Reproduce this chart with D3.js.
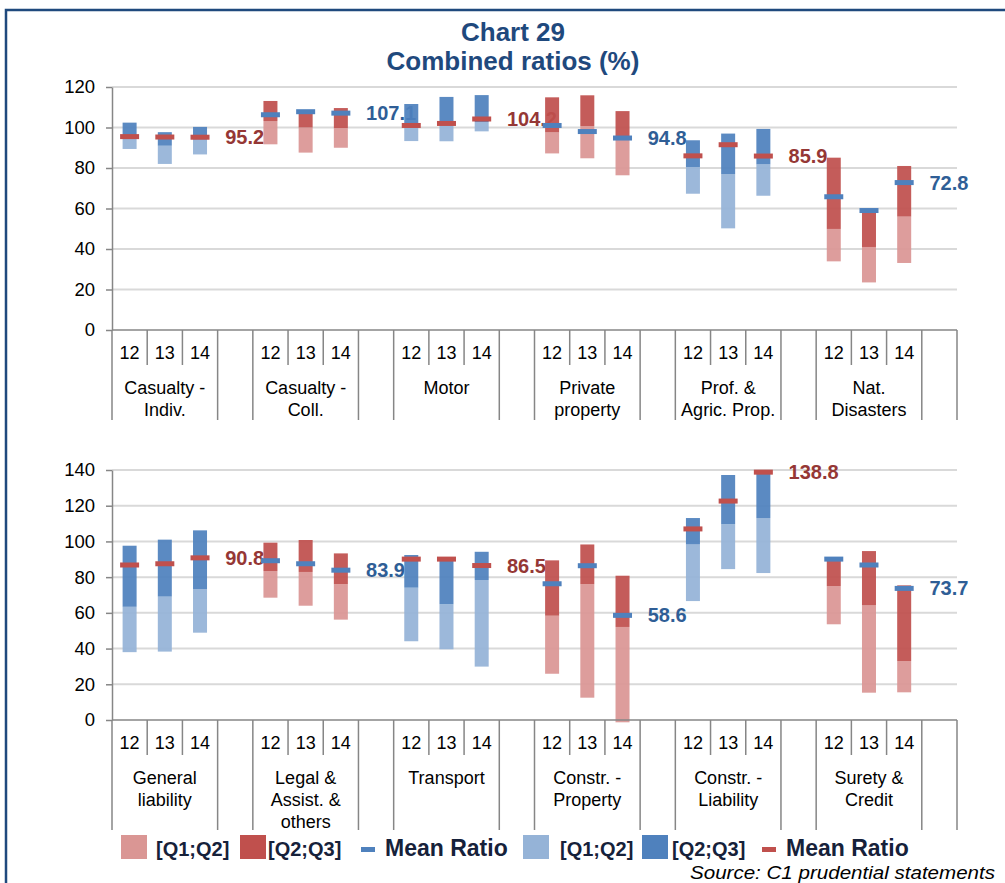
<!DOCTYPE html>
<html>
<head>
<meta charset="utf-8">
<script src="https://cdn.jsdelivr.net/npm/d3@7"></script>
<style>
  body { margin: 0; background: #fff; }
  svg { display: block; font-family: "Liberation Sans", Arial, sans-serif; }
</style>
</head>
<body>
<svg id="chart" width="1005" height="883"></svg>
<script>
// ---- data -------------------------------------------------------------
const years = ["12", "13", "14"];

// upper panel: lines of business
const topGroups = [
  ["Casualty -", "Indiv."], ["Casualty -", "Coll."], ["Motor"],
  ["Private", "property"], ["Prof. &", "Agric. Prop."], ["Nat.", "Disasters"]
];
const topTicks = [0, 20, 40, 60, 80, 100, 120];
// one value per group and year (12, 13, 14)
const topQ1 = [89.4, 82.0, 86.7,  91.7, 87.6, 90.0,  93.3, 93.2, 98.1,
               87.2, 84.8, 76.4,  67.3, 50.2, 66.3,  33.9, 23.5, 33.1];
const topQ2 = [95.0, 91.0, 94.0,  103.2, 100.0, 99.7,  100.0, 101.0, 102.7,
               97.6, 100.7, 94.5,  80.5, 77.0, 81.8,  49.9, 41.0, 56.0];
const topQ3 = [102.4, 97.7, 100.3,  113.1, 108.3, 109.6,  111.6, 115.1, 116.0,
               114.9, 115.9, 108.1,  93.7, 97.0, 99.3,  85.1, 58.0, 81.0];
const topMean = [95.5, 95.3, 95.2,  106.3, 107.8, 107.1,  101.0, 102.0, 104.2,
                 101.0, 98.0, 94.8,  86.0, 91.5, 85.9,  65.8, 59.0, 72.8];

// lower panel
const bottomGroups = [
  ["General", "liability"], ["Legal &", "Assist. &", "others"], ["Transport"],
  ["Constr. -", "Property"], ["Constr. -", "Liability"], ["Surety &", "Credit"]
];
const bottomTicks = [0, 20, 40, 60, 80, 100, 120, 140];
const bottomQ1 = [38.0, 38.3, 48.9,  68.5, 64.0, 56.2,  44.1, 39.6, 29.9,
                  25.9, 12.5, -1.3,  66.6, 84.5, 82.3,  53.6, 15.3, 15.5];
const bottomQ2 = [63.4, 69.1, 73.2,  83.4, 82.9, 76.1,  74.1, 64.9, 78.4,
                  58.4, 76.1, 52.1,  98.3, 109.7, 113.1,  75.0, 64.2, 33.0];
const bottomQ3 = [97.6, 101.0, 106.2,  99.3, 100.8, 93.3,  92.4, 89.3, 94.2,
                  89.4, 98.3, 80.8,  113.1, 137.2, 138.5,  89.5, 94.6, 75.4];
const bottomMean = [86.8, 87.5, 90.8,  89.2, 87.5, 83.9,  90.1, 90.1, 86.5,
                    76.3, 86.4, 58.6,  107.0, 122.6, 138.8,  90.1, 86.8, 73.7];

const legendItems = ["[Q1;Q2]", "[Q2;Q3]", "Mean Ratio", "[Q1;Q2]", "[Q2;Q3]", "Mean Ratio"];

// ---- styling ------------------------------------------------------------
const C = {
  blueDark: "#4F81BD", blueLight: "#95B3D7",
  redDark: "#C0504D", redLight: "#DA9694",
  redLabel: "#953735", blueLabel: "#2F5E96",
  grid: "#D9D9D9", axis: "#868686", title: "#1F497D", legendText: "#16213A"
};

const svg = d3.select("#chart");

// frame
svg.append("rect")
  .attr("x", 6).attr("y", 10).attr("width", 1010).attr("height", 900)
  .attr("fill", "none").attr("stroke", C.title).attr("stroke-width", 2.5);

// title
const title = svg.append("text").attr("text-anchor", "middle")
  .attr("fill", C.title).attr("font-weight", "bold").attr("font-size", 26);
title.append("tspan").attr("x", 513).attr("y", 41).text("Chart 29");
title.append("tspan").attr("x", 513).attr("y", 70).text("Combined ratios (%)");

const xLeft = 112, xRight = 957;

function panel(cfg) {
  const g = svg.append("g");
  const keys = [];
  cfg.groups.forEach((grp, gi) => {
    years.forEach(yr => keys.push(gi + "-" + yr));
    keys.push(gi + "-blank");
  });
  const x = d3.scaleBand().domain(keys).range([xLeft, xRight]).padding(0);
  const y = d3.scaleLinear().domain([0, cfg.max]).range([cfg.y0, cfg.yTop]);
  const bw = x.bandwidth();
  const barW = 14, meanW = 19, meanH = 5;

  // gridlines
  g.append("g").selectAll("line").data(cfg.ticks.filter(t => t > 0)).join("line")
    .attr("x1", xLeft).attr("x2", xRight)
    .attr("y1", d => y(d)).attr("y2", d => y(d))
    .attr("stroke", C.grid).attr("stroke-width", 2);

  // rows of bar data
  const rows = [];
  cfg.groups.forEach((grp, gi) => {
    years.forEach((yr, yi) => {
      const i = gi * 3 + yi;
      rows.push({
        key: gi + "-" + yr, blue: gi % 2 === 0,
        q1: cfg.q1[i], q2: cfg.q2[i], q3: cfg.q3[i], mean: cfg.mean[i]
      });
    });
  });

  // latest-year mean, written in each group's spare slot
  const labels = cfg.groups.map((grp, gi) => ({
    key: gi + "-blank", value: cfg.mean[gi * 3 + 2], blue: gi % 2 === 0
  }));
  g.append("g").selectAll("text").data(labels).join("text")
    .attr("x", d => x(d.key) + bw / 2 - 10)
    .attr("y", d => y(d.value))
    .attr("dominant-baseline", "central")
    .attr("font-size", 20).attr("font-weight", "bold")
    .attr("fill", d => d.blue ? C.redLabel : C.blueLabel)
    .text(d => d.value.toFixed(1));

  // interquartile bars
  const bars = g.append("g");
  bars.selectAll("rect.low").data(rows).join("rect").attr("class", "low")
    .attr("x", d => x(d.key) + (bw - barW) / 2).attr("width", barW)
    .attr("y", d => y(d.q2)).attr("height", d => y(d.q1) - y(d.q2))
    .attr("fill", d => d.blue ? C.blueLight : C.redLight).attr("fill-opacity", 0.93);
  bars.selectAll("rect.high").data(rows).join("rect").attr("class", "high")
    .attr("x", d => x(d.key) + (bw - barW) / 2).attr("width", barW)
    .attr("y", d => y(d.q3)).attr("height", d => y(d.q2) - y(d.q3))
    .attr("fill", d => d.blue ? C.blueDark : C.redDark).attr("fill-opacity", 0.93);
  // mean markers
  bars.selectAll("rect.mean").data(rows).join("rect").attr("class", "mean")
    .attr("x", d => x(d.key) + (bw - meanW) / 2).attr("width", meanW)
    .attr("y", d => y(d.mean) - meanH / 2).attr("height", meanH)
    .attr("fill", d => d.blue ? C.redDark : C.blueDark);

  // y axis
  const yAxis = g.append("g").attr("transform", `translate(${xLeft},0)`)
    .call(d3.axisLeft(y).tickValues(cfg.ticks).tickSize(6).tickPadding(11).tickSizeOuter(0));
  yAxis.select(".domain").attr("stroke", C.axis).attr("stroke-width", 1.5);
  yAxis.selectAll(".tick line").attr("stroke", C.axis).attr("stroke-width", 1.5);
  yAxis.selectAll(".tick text").attr("font-size", 18.5).attr("fill", "#000")
    .attr("font-family", "Liberation Sans, Arial, sans-serif");

  // category axis: baseline, separators, year and group labels
  const cat = g.append("g");
  cat.append("line").attr("x1", xLeft).attr("x2", xRight)
    .attr("y1", cfg.y0).attr("y2", cfg.y0)
    .attr("stroke", C.axis).attr("stroke-width", 1.5);
  const bounds = d3.range(keys.length + 1);
  cat.selectAll("line.sep").data(bounds).join("line").attr("class", "sep")
    .attr("x1", k => k < keys.length ? x(keys[k]) : xRight)
    .attr("x2", k => k < keys.length ? x(keys[k]) : xRight)
    .attr("y1", cfg.y0)
    .attr("y2", k => (k % 4 === 0 || k % 4 === 3) ? cfg.y0 + cfg.longLen : cfg.y0 + 35)
    .attr("stroke", C.axis).attr("stroke-width", 1.5);
  cat.selectAll("text.year").data(rows).join("text").attr("class", "year")
    .attr("x", d => x(d.key) + bw / 2).attr("y", cfg.y0 + 23)
    .attr("text-anchor", "middle").attr("dominant-baseline", "central")
    .attr("font-size", 18).attr("fill", "#000")
    .text(d => d.key.split("-")[1]);
  cfg.groups.forEach((lines, gi) => {
    const cx = x(gi + "-" + years[1]) + bw / 2;
    lines.forEach((ln, li) => {
      cat.append("text").attr("x", cx).attr("y", cfg.y0 + 58 + li * 22)
        .attr("text-anchor", "middle").attr("dominant-baseline", "central")
        .attr("font-size", 18).attr("fill", "#000").text(ln);
    });
  });
}

panel({ groups: topGroups, ticks: topTicks, max: 120, y0: 330, yTop: 87, longLen: 90,
        q1: topQ1, q2: topQ2, q3: topQ3, mean: topMean });
panel({ groups: bottomGroups, ticks: bottomTicks, max: 140, y0: 720, yTop: 470, longLen: 110,
        q1: bottomQ1, q2: bottomQ2, q3: bottomQ3, mean: bottomMean });

// ---- legend -------------------------------------------------------------
const lg = svg.append("g");
const legendSpec = [
  { kind: "box", x: 121, color: C.redLight, tx: 156 },
  { kind: "box", x: 240, color: C.redDark, tx: 268 },
  { kind: "dash", x: 361, color: C.blueDark, tx: 385 },
  { kind: "box", x: 523, color: C.blueLight, tx: 560 },
  { kind: "box", x: 642, color: C.blueDark, tx: 672 },
  { kind: "dash", x: 762, color: C.redDark, tx: 786 }
];
legendSpec.forEach((s, i) => {
  if (s.kind === "box") {
    lg.append("rect").attr("x", s.x).attr("y", 835).attr("width", 26).attr("height", 24)
      .attr("fill", s.color);
  } else {
    lg.append("rect").attr("x", s.x).attr("y", 847).attr("width", 14).attr("height", 5)
      .attr("fill", s.color);
  }
  const big = legendItems[i] === "Mean Ratio";
  lg.append("text").attr("x", s.tx).attr("y", 856)
    .attr("font-size", big ? 23 : 20).attr("font-weight", "bold")
    .attr("fill", C.legendText).text(legendItems[i]);
});

// source note
svg.append("text").attr("x", 690).attr("y", 878.5)
  .attr("font-size", 19).attr("font-style", "italic").attr("fill", "#000")
  .attr("textLength", 305).attr("lengthAdjust", "spacingAndGlyphs")
  .text("Source: C1 prudential statements");
</script>
</body>
</html>
